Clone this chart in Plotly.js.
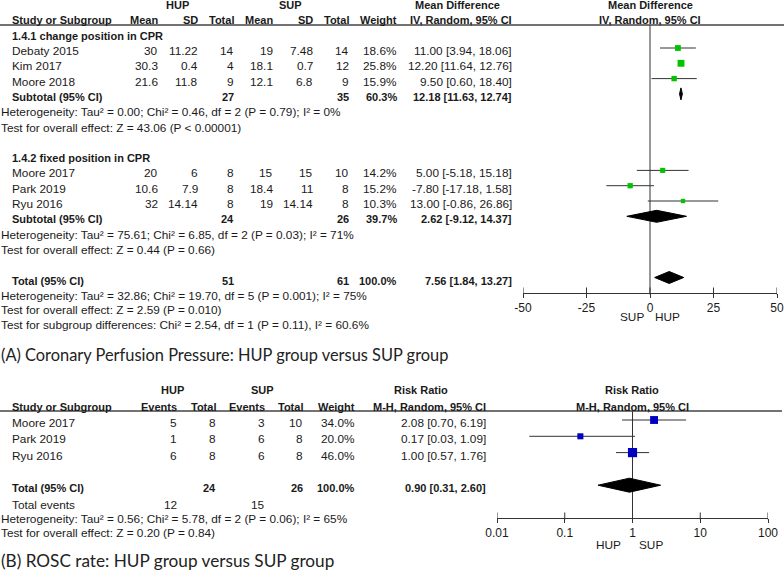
<!DOCTYPE html>
<html><head><meta charset="utf-8">
<script src="https://cdn.plot.ly/plotly-3.0.1.min.js"></script>
<style>html,body{margin:0;padding:0;background:#fff;}#chart{width:784px;height:582px;}</style>
</head><body><div id="chart"></div>
<script>
// ---------- Panel A: Coronary Perfusion Pressure ----------
const groupLabelsA = ['1.4.1 change position in CPR', '1.4.2 fixed position in CPR'];
const studiesA = ['Debaty 2015', 'Kim 2017', 'Moore 2018', 'Moore 2017', 'Park 2019', 'Ryu 2016'];
const studyGroupA = [0, 0, 0, 1, 1, 1];
const hupMeanA = [30, 30.3, 21.6, 20, 10.6, 32];
const hupSdA = [11.22, 0.4, 11.8, 6, 7.9, 14.14];
const hupNA = [14, 4, 9, 8, 8, 8];
const supMeanA = [19, 18.1, 12.1, 15, 18.4, 19];
const supSdA = [7.48, 0.7, 6.8, 15, 11, 14.14];
const supNA = [14, 12, 9, 10, 8, 8];
const weightA = [18.6, 25.8, 15.9, 14.2, 15.2, 10.3];
const mdA = [11.00, 12.20, 9.50, 5.00, -7.80, 13.00];
const mdLoA = [3.94, 11.64, 0.60, -5.18, -17.18, -0.86];
const mdHiA = [18.06, 12.76, 18.40, 15.18, 1.58, 26.86];
const subHupNA = [27, 24];
const subSupNA = [35, 26];
const subWeightA = [60.3, 39.7];
const subMdA = [12.18, 2.62];
const subLoA = [11.63, -9.12];
const subHiA = [12.74, 14.37];
const subHetA = ['Heterogeneity: Tau\u00b2 = 0.00; Chi\u00b2 = 0.46, df = 2 (P = 0.79); I\u00b2 = 0%',
                 'Heterogeneity: Tau\u00b2 = 75.61; Chi\u00b2 = 6.85, df = 2 (P = 0.03); I\u00b2 = 71%'];
const subTestA = ['Test for overall effect: Z = 43.06 (P < 0.00001)',
                  'Test for overall effect: Z = 0.44 (P = 0.66)'];
const totHupNA = 51, totSupNA = 61, totWeightA = 100.0;
const totMdA = 7.56, totLoA = 1.84, totHiA = 13.27;
const totTextA = ['Heterogeneity: Tau\u00b2 = 32.86; Chi\u00b2 = 19.70, df = 5 (P = 0.001); I\u00b2 = 75%',
                  'Test for overall effect: Z = 2.59 (P = 0.010)',
                  'Test for subgroup differences: Chi\u00b2 = 2.54, df = 1 (P = 0.11), I\u00b2 = 60.6%'];
const tickValsA = [-50, -25, 0, 25, 50];
const tickTextA = ['-50', '-25', '0', '25', '50'];
const captionA = '(A) Coronary Perfusion Pressure: HUP group versus SUP group';

// ---------- Panel B: ROSC rate ----------
const studiesB = ['Moore 2017', 'Park 2019', 'Ryu 2016'];
const hupEvB = [5, 1, 6];
const hupNB = [8, 8, 8];
const supEvB = [3, 6, 6];
const supNB = [10, 8, 8];
const weightB = [34.0, 20.0, 46.0];
const rrB = [2.08, 0.17, 1.00];
const rrLoB = [0.70, 0.03, 0.57];
const rrHiB = [6.19, 1.09, 1.76];
const totHupNB = 24, totSupNB = 26, totWeightB = 100.0;
const totRrB = 0.90, totLoB = 0.31, totHiB = 2.60;
const totEvB = [12, 15];
const totTextB = ['Heterogeneity: Tau\u00b2 = 0.56; Chi\u00b2 = 5.78, df = 2 (P = 0.06); I\u00b2 = 65%',
                  'Test for overall effect: Z = 0.20 (P = 0.84)'];
const tickValsB = [0.01, 0.1, 1, 10, 100];
const tickTextB = ['0.01', '0.1', '1', '10', '100'];
const captionB = '(B) ROSC rate: HUP group versus SUP group';

// ---------- layout helpers ----------
const W = 784, H = 582;
const TXT = '#1a1a1a', LINE = '#333333';
const FONT = 'Liberation Sans, Arial, sans-serif';
const REG = 11.8, BOLD = 11;
const ann = [];
function T(text, x, y, anchor, bold, size, font, color) {
  ann.push({text: bold ? '<b>' + text + '</b>' : text, x: x / W, xref: 'paper', y: y, yref: 'y',
    xanchor: anchor || 'left', yanchor: 'middle', showarrow: false, borderpad: 0, borderwidth: 0,
    font: {family: font || FONT, size: size || (bold ? BOLD : REG), color: color || TXT}});
}
const f2 = v => v.toFixed(2);
const ciStr = (m, l, h) => f2(m) + ' [' + f2(l) + ', ' + f2(h) + ']';
const pct = v => v.toFixed(1) + '%';

// Panel A rows
const rowA = i => 51 + 15.3 * i;        // text centre
const mkA = i => rowA(i) - 3;           // marker centre
const colA = {mean1: 158, sd1: 198, n1: 234, mean2: 273, sd2: 313, n2: 349, w: 397, ci: 512};

T('HUP', 177, rowA(-3), 'center', true);
T('SUP', 290, rowA(-3), 'center', true);
T('Mean Difference', 457, rowA(-3), 'center', true);
T('Mean Difference', 650, rowA(-3), 'center', true);
T('Study or Subgroup', 12, rowA(-2), 'left', true);
T('Mean', colA.mean1, rowA(-2), 'right', true);
T('SD', colA.sd1, rowA(-2), 'right', true);
T('Total', colA.n1, rowA(-2), 'right', true);
T('Mean', colA.mean2, rowA(-2), 'right', true);
T('SD', colA.sd2, rowA(-2), 'right', true);
T('Total', colA.n2, rowA(-2), 'right', true);
T('Weight', colA.w, rowA(-2), 'right', true);
T('IV, Random, 95% CI', colA.ci, rowA(-2), 'right', true);
T('IV, Random, 95% CI', 650, rowA(-2), 'center', true);

const studyRowA = [];
const subRowA = [];
let r = -1;
for (let g = 0; g < groupLabelsA.length; g++) {
  T(groupLabelsA[g], 12, rowA(r), 'left', true);
  r++;
  studiesA.forEach((s, k) => {
    if (studyGroupA[k] !== g) return;
    studyRowA[k] = r;
    T(s, 12, rowA(r), 'left');
    T(String(hupMeanA[k]), colA.mean1, rowA(r), 'right');
    T(String(hupSdA[k]), colA.sd1, rowA(r), 'right');
    T(String(hupNA[k]), colA.n1, rowA(r), 'right');
    T(String(supMeanA[k]), colA.mean2, rowA(r), 'right');
    T(String(supSdA[k]), colA.sd2, rowA(r), 'right');
    T(String(supNA[k]), colA.n2, rowA(r), 'right');
    T(pct(weightA[k]), colA.w, rowA(r), 'right');
    T(ciStr(mdA[k], mdLoA[k], mdHiA[k]), colA.ci, rowA(r), 'right');
    r++;
  });
  subRowA[g] = r;
  T('Subtotal (95% CI)', 12, rowA(r), 'left', true);
  T(String(subHupNA[g]), colA.n1, rowA(r), 'right', true);
  T(String(subSupNA[g]), colA.n2, rowA(r), 'right', true);
  T(pct(subWeightA[g]), colA.w, rowA(r), 'right', true);
  T(ciStr(subMdA[g], subLoA[g], subHiA[g]), colA.ci, rowA(r), 'right', true);
  r++;
  T(subHetA[g], 1, rowA(r), 'left'); r++;
  T(subTestA[g], 1, rowA(r), 'left'); r++;
  r += 1;
}
const totRowA = r;
T('Total (95% CI)', 12, rowA(r), 'left', true);
T(String(totHupNA), colA.n1, rowA(r), 'right', true);
T(String(totSupNA), colA.n2, rowA(r), 'right', true);
T(pct(totWeightA), colA.w, rowA(r), 'right', true);
T(ciStr(totMdA, totLoA, totHiA), colA.ci, rowA(r), 'right', true);
totTextA.forEach((t, k) => T(t, 1, rowA(r + 1 + k) - k * 0.8, 'left'));
const axisYA = 293;
T('SUP', 644, 317, 'right');
T('HUP', 655, 317, 'left');
T(captionA, 1, 354, 'left', false, 16.4, 'Lato, Carlito, sans-serif', '#222');

// Panel B rows
const rowB = i => 423 + 16.3 * i;
const mkB = i => rowB(i) - 3;
const colB = {ev1: 177, n1: 216, ev2: 265, n2: 303, w: 355, ci: 486};
T('HUP', 172, rowB(-2), 'center', true);
T('SUP', 262, rowB(-2), 'center', true);
T('Risk Ratio', 421, rowB(-2), 'center', true);
T('Risk Ratio', 632, rowB(-2), 'center', true);
T('Study or Subgroup', 12, rowB(-1), 'left', true);
T('Events', colB.ev1, rowB(-1), 'right', true);
T('Total', colB.n1, rowB(-1), 'right', true);
T('Events', colB.ev2, rowB(-1), 'right', true);
T('Total', colB.n2, rowB(-1), 'right', true);
T('Weight', colB.w, rowB(-1), 'right', true);
T('M-H, Random, 95% CI', colB.ci, rowB(-1), 'right', true);
T('M-H, Random, 95% CI', 632, rowB(-1), 'center', true);
studiesB.forEach((s, k) => {
  T(s, 12, rowB(k), 'left');
  T(String(hupEvB[k]), colB.ev1, rowB(k), 'right');
  T(String(hupNB[k]), colB.n1, rowB(k), 'right');
  T(String(supEvB[k]), colB.ev2, rowB(k), 'right');
  T(String(supNB[k]), colB.n2, rowB(k), 'right');
  T(pct(weightB[k]), colB.w, rowB(k), 'right');
  T(ciStr(rrB[k], rrLoB[k], rrHiB[k]), colB.ci, rowB(k), 'right');
});
const totRowB = studiesB.length + 1;
T('Total (95% CI)', 12, rowB(totRowB), 'left', true);
T(String(totHupNB), colB.n1, rowB(totRowB), 'right', true);
T(String(totSupNB), colB.n2, rowB(totRowB), 'right', true);
T(pct(totWeightB), colB.w, rowB(totRowB), 'right', true);
T(ciStr(totRrB, totLoB, totHiB), colB.ci, rowB(totRowB), 'right', true);
T('Total events', 12, 505, 'left');
T(String(totEvB[0]), colB.ev1, 505, 'right');
T(String(totEvB[1]), colB.ev2, 505, 'right');
T(totTextB[0], 1, 518.5, 'left');
T(totTextB[1], 1, 532.5, 'left');
const axisYB = 518;
T('HUP', 621, 545, 'right');
T('SUP', 639, 545, 'left');
T(captionB, 1, 560, 'left', false, 17.2, 'Lato, Carlito, sans-serif', '#222');

// ---------- traces ----------
const traces = [];
traces.push({x: [0, 0], y: [25, axisYA], xaxis: 'x', yaxis: 'y', mode: 'lines',
  line: {color: LINE, width: 1}, hoverinfo: 'skip', showlegend: false});
traces.push({x: [1, 1], y: [411, axisYB], xaxis: 'x2', yaxis: 'y', mode: 'lines',
  line: {color: LINE, width: 1}, hoverinfo: 'skip', showlegend: false});
// confidence-interval whiskers (drawn first, under the squares)
traces.push({x: mdA, y: studyRowA.map(mkA), xaxis: 'x', yaxis: 'y', mode: 'markers', type: 'scatter',
  marker: {size: 1, opacity: 0},
  error_x: {type: 'data', symmetric: false, array: mdHiA.map((h, k) => h - mdA[k]),
            arrayminus: mdLoA.map((l, k) => mdA[k] - l), width: 0, thickness: 1, color: LINE},
  showlegend: false, hoverinfo: 'skip'});
traces.push({x: rrB, y: studiesB.map((s, k) => mkB(k)), xaxis: 'x2', yaxis: 'y', mode: 'markers', type: 'scatter',
  marker: {size: 1, opacity: 0},
  error_x: {type: 'data', symmetric: false, array: rrHiB.map((h, k) => h - rrB[k]),
            arrayminus: rrLoB.map((l, k) => rrB[k] - l), width: 0, thickness: 1, color: LINE},
  showlegend: false, hoverinfo: 'skip'});
// weighted squares
traces.push({x: mdA, y: studyRowA.map(mkA), xaxis: 'x', yaxis: 'y', mode: 'markers', type: 'scatter',
  marker: {symbol: 'square', color: '#00c400', opacity: 1, size: weightA.map(w => 1.35 * Math.sqrt(w)),
           line: {width: 0}},
  showlegend: false, hoverinfo: 'skip'});
traces.push({x: rrB, y: studiesB.map((s, k) => mkB(k)), xaxis: 'x2', yaxis: 'y', mode: 'markers', type: 'scatter',
  marker: {symbol: 'square', color: '#0000c0', opacity: 1, size: weightB.map(w => 1.35 * Math.sqrt(w)),
           line: {width: 0}},
  showlegend: false, hoverinfo: 'skip'});
function diamond(lo, est, hi, yc, h, xa) {
  traces.push({x: [lo, est, hi, est, lo], y: [yc, yc - h, yc, yc + h, yc], xaxis: xa, yaxis: 'y',
    mode: 'lines', fill: 'toself', fillcolor: '#000', line: {color: '#000', width: 1},
    hoverinfo: 'skip', showlegend: false});
}
subMdA.forEach((m, g) => diamond(subLoA[g], m, subHiA[g], mkA(subRowA[g]), 6, 'x'));
diamond(totLoA, totMdA, totHiA, mkA(totRowA), 6, 'x');
diamond(totLoB, totRrB, totHiB, mkB(totRowB), 7, 'x2');
// upper halves of the crossing tick marks
traces.push({x: tickValsA, y: tickValsA.map(() => axisYA - 2), xaxis: 'x', yaxis: 'y', mode: 'markers',
  marker: {symbol: 'line-ns-open', size: 5, color: LINE, line: {color: LINE, width: 1}}, hoverinfo: 'skip', showlegend: false});
traces.push({x: tickValsB, y: tickValsB.map(() => axisYB - 2), xaxis: 'x2', yaxis: 'y', mode: 'markers',
  marker: {symbol: 'line-ns-open', size: 5, color: LINE, line: {color: LINE, width: 1}}, hoverinfo: 'skip', showlegend: false});

const axisCommon = {showgrid: false, zeroline: false, showline: true, linecolor: LINE, linewidth: 1,
  ticks: 'outside', ticklen: 4, tickcolor: LINE, tickwidth: 1, anchor: 'free', fixedrange: true,
  tickfont: {family: FONT, size: 12, color: TXT}, tickmode: 'array'};

const layout = {
  width: W, height: H, margin: {l: 0, r: 0, t: 0, b: 0, pad: 0},
  paper_bgcolor: '#fff', plot_bgcolor: 'rgba(0,0,0,0)', showlegend: false,
  xaxis: Object.assign({}, axisCommon, {domain: [523 / W, 777 / W], range: [-50, 50],
    tickvals: tickValsA, ticktext: tickTextA, position: 1 - axisYA / H}),
  xaxis2: Object.assign({}, axisCommon, {type: 'log', domain: [497 / W, 768 / W], range: [-2, 2],
    tickvals: tickValsB, ticktext: tickTextB, position: 1 - axisYB / H}),
  yaxis: {domain: [0, 1], range: [H, 0], visible: false, fixedrange: true},
  shapes: [
    {type: 'line', xref: 'paper', yref: 'y', x0: 0, x1: 1, y0: 25, y1: 25, line: {color: '#444', width: 1.5}},
    {type: 'line', xref: 'paper', yref: 'y', x0: 0, x1: 782 / W, y0: 411, y1: 411, line: {color: '#444', width: 1.5}}
  ],
  annotations: ann
};
Plotly.newPlot('chart', traces, layout, {staticPlot: true, displayModeBar: false});
</script></body></html>
